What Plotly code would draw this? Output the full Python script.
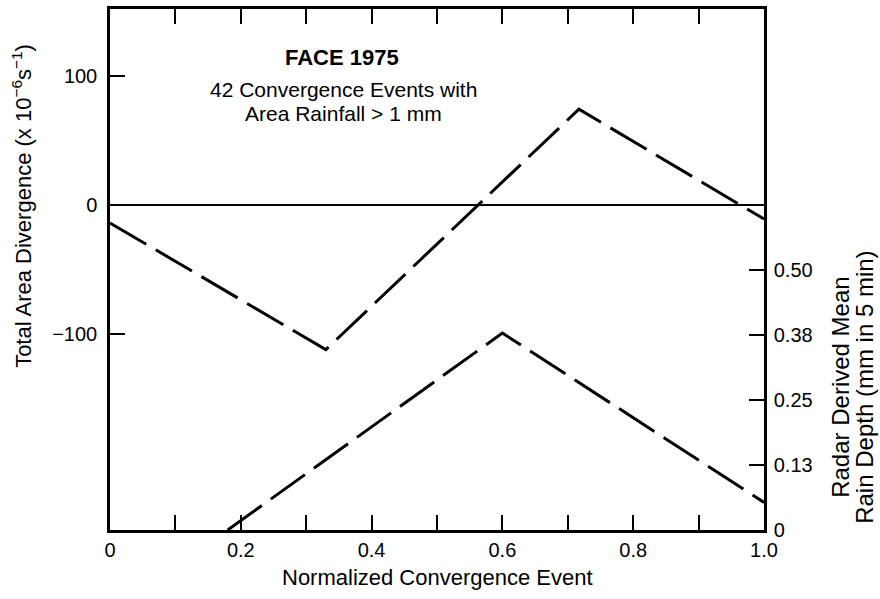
import plotly.graph_objects as go

# Data
event_div = [0.0, 0.33, 0.717, 1.0]
divergence = [-14, -112, 74, -11]

event_rain = [0.18, 0.60, 1.0]
rain_depth = [0.0, 0.378, 0.053]

x_tickvals = [0, 0.2, 0.4, 0.6, 0.8, 1.0]
x_ticktext = ["0", "0.2", "0.4", "0.6", "0.8", "1.0"]
x_minorvals = [0.1, 0.3, 0.5, 0.7, 0.9]
y_tickvals = [-100, 0, 100]
y_ticktext = ["\u2212100", "0", "100"]
y2_tickvals = [0, 0.125, 0.25, 0.375, 0.5]
y2_ticktext = ["0", "0.13", "0.25", "0.38", "0.50"]

FONT = "Liberation Sans, Arial, Helvetica, sans-serif"
fs_tick = 20
fs_text = 22

# pixel helpers for annotation placement (paper coords)
L, R, T, B = 110, 764, 6, 530
def px(xp):
    return (xp - L) / (R - L)
def py(yp):
    return (B - yp) / (B - T)

fig = go.Figure()
fig.add_trace(go.Scatter(x=event_div, y=divergence, mode="lines",
                         line=dict(color="black", width=3, dash="42px,11px"),
                         yaxis="y", showlegend=False))
fig.add_trace(go.Scatter(x=event_rain, y=rain_depth, mode="lines",
                         line=dict(color="black", width=3, dash="42px,11px"),
                         yaxis="y2", showlegend=False))

minor_x = dict(tickvals=x_minorvals, ticks="inside", ticklen=15,
               tickwidth=1.5, tickcolor="black", showgrid=False)

fig.update_layout(
    width=880, height=599,
    margin=dict(l=L, r=880 - R, t=T, b=599 - B),
    paper_bgcolor="white", plot_bgcolor="white",
    font=dict(family=FONT, size=fs_tick, color="black"),
    xaxis=dict(range=[0, 1.0], tickvals=x_tickvals, ticktext=x_ticktext,
               ticks="inside", ticklen=15, tickwidth=1.5, tickcolor="black",
               minor=minor_x,
               showline=True, linewidth=2.5, linecolor="black", mirror="ticks",
               showgrid=False, zeroline=False, ticklabelstandoff=0),
    yaxis=dict(range=[-251.5, 151.5], tickvals=y_tickvals, ticktext=y_ticktext,
               ticks="inside", ticklen=15, tickwidth=1.5, tickcolor="black",
               showline=True, linewidth=2.5, linecolor="black", mirror=False,
               showgrid=False, zeroline=True, zerolinecolor="black",
               zerolinewidth=1.5, ticklabelstandoff=6),
    yaxis2=dict(range=[0, 1.0], tickvals=y2_tickvals, ticktext=y2_ticktext,
                overlaying="y", side="right",
                ticks="inside", ticklen=15, tickwidth=1.5, tickcolor="black",
                showline=True, linewidth=2.5, linecolor="black",
                showgrid=False, zeroline=False, ticklabelstandoff=3),
)

annos = [
    # x axis title
    dict(text="Normalized Convergence Event", x=px(437), y=py(578), size=fs_text),
    # left axis title
    dict(text="Total Area Divergence (x 10<sup>\u22126</sup>s<sup>\u22121</sup>)",
         x=px(22), y=py(204), textangle=-90, size=fs_text),
    # right axis title (two lines)
    dict(text="Radar Derived Mean", x=px(841), y=py(387), textangle=-90, size=24),
    dict(text="Rain Depth (mm in 5 min)", x=px(865), y=py(387), textangle=-90, size=24),
    # in-plot caption
    dict(text="<b>FACE 1975</b>", x=px(342), y=py(55), size=fs_text),
    dict(text="42 Convergence Events with", x=px(343), y=py(87), size=21),
    dict(text="Area Rainfall > 1 mm", x=px(343), y=py(111), size=21),
]
for a in annos:
    size = a.pop("size")
    a.update(xref="paper", yref="paper", showarrow=False,
             xanchor="center", yanchor="middle",
             font=dict(family=FONT, size=size, color="black"))
    fig.add_annotation(**a)

fig.write_html("out.html")
